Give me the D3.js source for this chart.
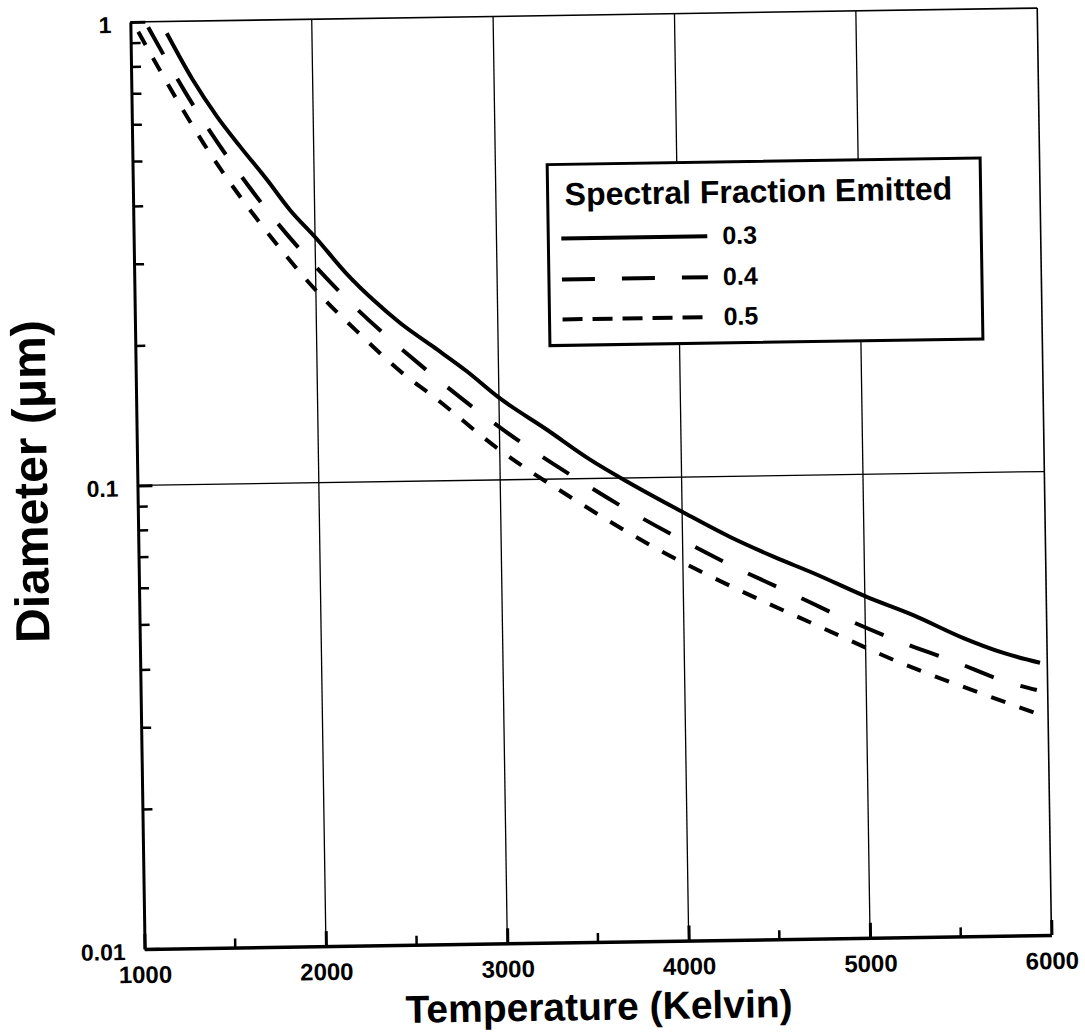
<!DOCTYPE html>
<html>
<head>
<meta charset="utf-8">
<script src="https://cdn.jsdelivr.net/npm/d3@7"></script>
<style>
  html, body { margin: 0; padding: 0; background: #fff; }
  text { font-family: "Liberation Sans", Arial, sans-serif; font-weight: bold; fill: #000; }
</style>
</head>
<body>
<svg id="chart" width="1085" height="1034"></svg>
<script>
// ---- data ----
const seriesNames = ["0.3", "0.4", "0.5"];
const temps03 = [1200,1340,1470,1595,1740,1865,2000,2170,2315,2460,2640,2825,2995,3260,3495,3715,4000,4260,4500,4720,5010,5265,5540,5755,5960];
const diam03  = [0.943,0.746,0.621,0.534,0.452,0.388,0.339,0.282,0.247,0.220,0.195,0.172,0.151,0.128,0.110,0.0974,0.0842,0.0741,0.0669,0.0614,0.0544,0.0495,0.0440,0.0408,0.0387];
const temps04 = [1098,1303,1677,2115,2607,3138,3411,3694,3985,4278,4577,4874,5179,5486,5782,5940];
const diam04  = [0.973,0.696,0.418,0.2615,0.173,0.1187,0.1006,0.0856,0.0736,0.0639,0.0561,0.0492,0.0436,0.0392,0.0352,0.0338];
const temps05 = [1043,1145,1395,1788,2004,2244,2483,2616,3005,3424,3846,4288,4737,5191,5640,5965];
const diam05  = [0.952,0.803,0.543,0.328,0.259,0.2076,0.1696,0.1546,0.1156,0.0893,0.0706,0.0573,0.0473,0.0391,0.0333,0.0298];
const xTickValues = [1000,2000,3000,4000,5000,6000];
const xMinorTicks = [1500,2500,3500,4500,5500];
const yTickValues = [0.01, 0.1, 1];
const yTickLabels = ["0.01", "0.1", "1"];
const yMinorTicks = [0.02,0.03,0.04,0.05,0.06,0.07,0.08,0.09,0.2,0.3,0.4,0.5,0.6,0.7,0.8,0.9];
const xTitle = "Temperature (Kelvin)";
const yTitle = "Diameter (\u03BCm)";
const legendTitle = "Spectral Fraction Emitted";

// ---- layout ----
const L = 137.4, R = 1044.4, T = 15, B = 942;
const svg = d3.select("#chart");
const g = svg.append("g").attr("transform", "rotate(-0.88, 591, 479)");

const x = d3.scaleLinear().domain([1000, 6000]).range([L, R]);
const y = d3.scaleLog().domain([0.01, 1]).range([B, T]);

// grid lines
g.append("g").selectAll("line").data(xTickValues.slice(1, -1)).join("line")
  .attr("x1", d => x(d)).attr("x2", d => x(d)).attr("y1", T).attr("y2", B)
  .attr("stroke", "#000").attr("stroke-width", 1.3);
g.append("g").selectAll("line").data([0.1]).join("line")
  .attr("x1", L).attr("x2", R).attr("y1", d => y(d)).attr("y2", d => y(d))
  .attr("stroke", "#000").attr("stroke-width", 1.3);

// frame: thin top / right
g.append("line").attr("x1", L).attr("x2", R).attr("y1", T).attr("y2", T).attr("stroke", "#000").attr("stroke-width", 1.6);
g.append("line").attr("x1", R).attr("x2", R).attr("y1", T).attr("y2", B).attr("stroke", "#000").attr("stroke-width", 1.6);

// bottom axis
const xAxis = d3.axisBottom(x).tickValues(xTickValues).tickFormat(d3.format("d")).tickSizeInner(-15).tickSizeOuter(0).tickPadding(0);
const gx = g.append("g").attr("transform", `translate(0,${B})`).call(xAxis);
gx.select(".domain").attr("stroke", "#000").attr("stroke-width", 3.5);
gx.selectAll(".tick line").attr("stroke", "#000").attr("stroke-width", 3);
gx.selectAll(".tick text").attr("y", 34).attr("dy", 0).attr("font-size", 24)
  .style("font-family", "'Liberation Sans', Arial, sans-serif").style("font-weight", "bold");
g.append("g").selectAll("line").data(xMinorTicks).join("line")
  .attr("x1", d => x(d)).attr("x2", d => x(d)).attr("y1", B).attr("y2", B - 9)
  .attr("stroke", "#000").attr("stroke-width", 2.5);

// left axis
const yAxis = d3.axisLeft(y).tickValues(yTickValues).tickFormat((d, i) => yTickLabels[i]).tickSizeInner(-15).tickSizeOuter(0).tickPadding(0);
const gy = g.append("g").attr("transform", `translate(${L},0)`).call(yAxis);
gy.select(".domain").attr("stroke", "#000").attr("stroke-width", 3);
gy.selectAll(".tick line").attr("stroke", "#000").attr("stroke-width", 3);
gy.selectAll(".tick text").attr("x", -19).attr("dy", "0.45em").attr("font-size", 23)
  .style("font-family", "'Liberation Sans', Arial, sans-serif").style("font-weight", "bold");
g.append("g").selectAll("line").data(yMinorTicks).join("line")
  .attr("x1", L).attr("x2", L + 10).attr("y1", d => y(d)).attr("y2", d => y(d))
  .attr("stroke", "#000").attr("stroke-width", 2.5);

// axis titles
g.append("text").attr("x", (L + R) / 2).attr("y", 1020).attr("text-anchor", "middle")
  .attr("font-size", 39).text(xTitle);
g.append("text").attr("transform", `translate(47,473) rotate(-90)`).attr("text-anchor", "middle")
  .attr("font-size", 48).text(yTitle);

// curves
const dashes = [null, "31,28", "15,15"];
const series = [
  temps03.map((t, i) => [t, diam03[i]]),
  temps04.map((t, i) => [t, diam04[i]]),
  temps05.map((t, i) => [t, diam05[i]])
];
const line = d3.line().x(d => x(d[0])).y(d => y(d[1])).curve(d3.curveMonotoneX);
g.append("g").selectAll("path").data(series).join("path")
  .attr("d", line).attr("fill", "none").attr("stroke", "#000").attr("stroke-width", 4)
  .attr("stroke-dasharray", (d, i) => dashes[i]);

// legend
const lg = g.append("g");
lg.append("rect").attr("x", 552).attr("y", 164).attr("width", 433).attr("height", 181)
  .attr("fill", "#fff").attr("stroke", "#000").attr("stroke-width", 3);
lg.append("text").attr("x", 569).attr("y", 205).attr("font-size", 32).text(legendTitle);
const legendDashes = [null, "33,27", "20,10"];
const rowY = [246, 287, 327];
seriesNames.forEach((name, i) => {
  lg.append("line").attr("x1", 565).attr("x2", 711).attr("y1", rowY[i] - 8).attr("y2", rowY[i] - 8)
    .attr("stroke", "#000").attr("stroke-width", 4).attr("stroke-dasharray", legendDashes[i]);
  lg.append("text").attr("x", 726).attr("y", rowY[i]).attr("font-size", 25).text(name);
});
</script>
</body>
</html>
